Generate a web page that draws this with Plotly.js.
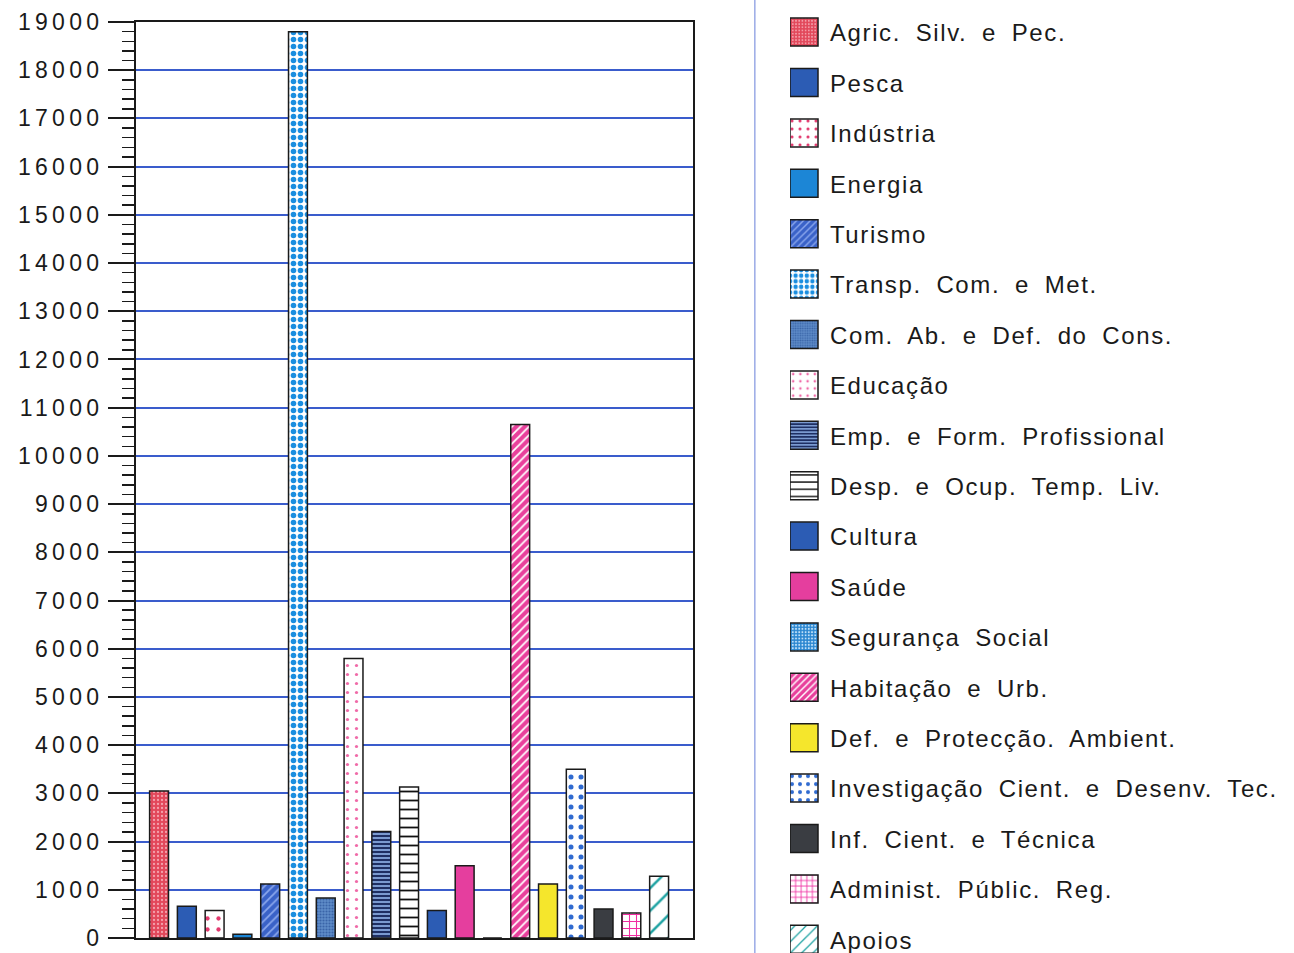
<!DOCTYPE html>
<html>
<head>
<meta charset="utf-8">
<script src="https://cdn.plot.ly/plotly-3.0.1.min.js"></script>
<style>
  html, body { margin: 0; padding: 0; background: #fff; }
  #chart { width: 1294px; height: 953px; }
  .ytick text { letter-spacing: 4.3px; }
  .legendtext { letter-spacing: 1.6px; word-spacing: 6.5px; }
</style>
</head>
<body>
<div id="chart"></div>
<script>
const categories = [
  "Agric. Silv. e Pec.",
  "Pesca",
  "Indústria",
  "Energia",
  "Turismo",
  "Transp. Com. e Met.",
  "Com. Ab. e Def. do Cons.",
  "Educação",
  "Emp. e Form. Profissional",
  "Desp. e Ocup. Temp. Liv.",
  "Cultura",
  "Saúde",
  "Segurança Social",
  "Habitação e Urb.",
  "Def. e Protecção. Ambient.",
  "Investigação Cient. e Desenv. Tec.",
  "Inf. Cient. e Técnica",
  "Administ. Públic. Reg.",
  "Apoios"
];

const values = [3050, 660, 570, 80, 1120, 18800, 830, 5800, 2210, 3130, 570, 1500, 0, 10650, 1120, 3500, 600, 520, 1280];

const yTickValues = [0,1000,2000,3000,4000,5000,6000,7000,8000,9000,10000,11000,12000,13000,14000,15000,16000,17000,18000,19000];

// style per category: [shape, bgcolor, fgcolor, size, solidity]
const barStyles = [
  [".", "#e2475a", "#f4a0ab", 4, 0.25],
  ["",  "#2c5cb4", "#2c5cb4", 8, 0.3],
  [".", "#ffffff", "#e23a6e", 11, 0.12],
  ["",  "#1c86d6", "#1c86d6", 8, 0.3],
  ["/", "#3a62c8", "#8aa6ec", 6, 0.3],
  [".", "#ffffff", "#1a8ee0", 7, 0.5],
  [".", "#5e8cc8", "#3a64a8", 3, 0.4],
  [".", "#ffffff", "#f06aa8", 9, 0.1],
  ["-", "#7a9ad0", "#1e2f63", 4, 0.5],
  ["-", "#ffffff", "#111111", 9, 0.2],
  ["",  "#2c5cb4", "#2c5cb4", 8, 0.3],
  ["",  "#e53e9e", "#e53e9e", 8, 0.3],
  [".", "#2a86d0", "#bfe0fa", 4, 0.3],
  ["/", "#e8409c", "#ffffff", 6, 0.3],
  ["",  "#f5e62c", "#f5e62c", 8, 0.3],
  [".", "#ffffff", "#2f6ad0", 10, 0.2],
  ["",  "#3a3d42", "#3a3d42", 8, 0.3],
  ["+", "#ffffff", "#f02ea2", 7, 0.28],
  ["/", "#ffffff", "#1fa3a3", 16, 0.16]
];

const traces = categories.map((c, i) => {
  const s = barStyles[i];
  const marker = {
    color: s[1],
    line: { color: "#1a1a1a", width: 1.5 }
  };
  if (s[0] !== "") {
    marker.pattern = { shape: s[0], bgcolor: s[1], fgcolor: s[2], fgopacity: 1, size: s[3], solidity: s[4], fillmode: "overlay" };
  }
  return {
    type: "bar",
    name: c,
    x: [c],
    y: [values[i]],
    width: 0.68,
    marker: marker,
    legendgroup: "g" + i,
    hoverinfo: "x+y"
  };
});

const layout = {
  width: 1294,
  height: 953,
  margin: { l: 136, r: 601, t: 22, b: 15, autoexpand: false },
  paper_bgcolor: "#ffffff",
  plot_bgcolor: "#ffffff",
  barmode: "overlay",
  showlegend: true,
  font: { family: "Liberation Sans, Arial, sans-serif", color: "#1a1a1a" },
  xaxis: {
    type: "category",
    categoryorder: "array",
    categoryarray: categories,
    range: [-0.83, 19.22],
    showticklabels: false,
    ticks: "",
    showgrid: false,
    zeroline: false,
    showline: true,
    mirror: true,
    linecolor: "#1a1a1a",
    linewidth: 2,
    fixedrange: true
  },
  yaxis: {
    range: [0, 19000],
    tickmode: "array",
    tickvals: yTickValues,
    ticktext: yTickValues.map(String),
    ticks: "outside",
    ticklen: 26,
    tickwidth: 2,
    tickcolor: "#1a1a1a",
    tickfont: { size: 23, color: "#1a1a1a", family: "Liberation Sans, Arial, sans-serif" },
    minor: { dtick: 200, ticks: "outside", ticklen: 12, tickwidth: 1.5, tickcolor: "#1a1a1a", showgrid: false },
    showgrid: true,
    gridcolor: "#3a5ccc",
    gridwidth: 2,
    zeroline: false,
    showline: true,
    mirror: true,
    linecolor: "#1a1a1a",
    linewidth: 2,
    fixedrange: true
  },
  legend: {
    xref: "container",
    yref: "container",
    x: 790 / 1294,
    xanchor: "left",
    y: 1 - 10 / 953,
    yanchor: "top",
    maxheight: 953,
    font: { size: 24, color: "#1a1a1a", family: "Liberation Sans, Arial, sans-serif" },
    tracegroupgap: 16.2,
    bgcolor: "rgba(0,0,0,0)",
    borderwidth: 0,
    traceorder: "grouped"
  },
  shapes: [
    { type: "line", xref: "paper", yref: "paper", x0: 1.111, x1: 1.111, y0: -0.02, y1: 1.03,
      line: { color: "#9aaae6", width: 1.5 } }
  ]
};

Plotly.newPlot("chart", traces, layout, { displayModeBar: false, staticPlot: true }).then(gd => {
  // enlarge legend swatches to match the reference's large square keys
  gd.querySelectorAll(".legend .legendpoints").forEach(g => {
    g.setAttribute("transform", "translate(-6,0)");
  });
  gd.querySelectorAll(".legend .legendpoints path").forEach(p => {
    p.setAttribute("d", "M14,14H-14V-14H14Z");
  });
});
</script>
</body>
</html>
